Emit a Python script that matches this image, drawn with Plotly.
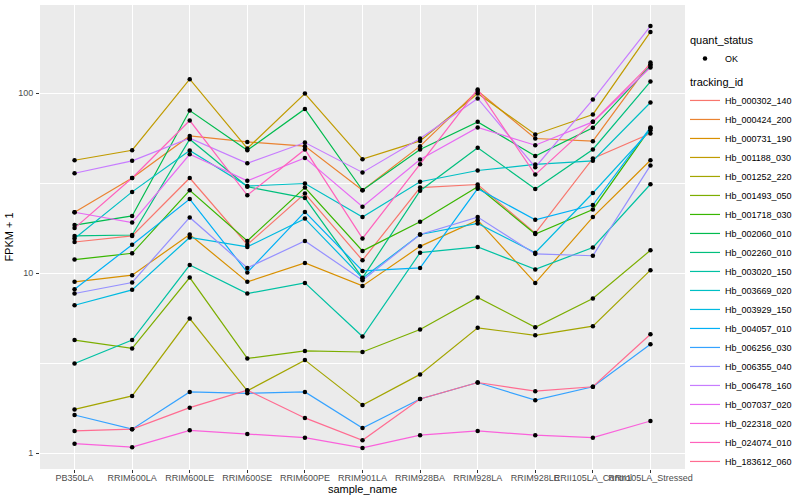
import plotly.graph_objects as go

samples = ["PB350LA", "RRIM600LA", "RRIM600LE", "RRIM600SE", "RRIM600PE", "RRIM901LA",
           "RRIM928BA", "RRIM928LA", "RRIM928LE", "RRII105LA_Control", "RRII105LA_Stressed"]

tracking_ids = ["Hb_000302_140", "Hb_000424_200", "Hb_000731_190", "Hb_001188_030",
                "Hb_001252_220", "Hb_001493_050", "Hb_001718_030", "Hb_002060_010",
                "Hb_002260_010", "Hb_003020_150", "Hb_003669_020", "Hb_003929_150",
                "Hb_004057_010", "Hb_006256_030", "Hb_006355_040", "Hb_006478_160",
                "Hb_007037_020", "Hb_022318_020", "Hb_024074_010", "Hb_183612_060"]

colors = ["#F8766D", "#EA8331", "#D89000", "#C09B00", "#A3A500", "#7CAE00", "#39B600",
          "#00BB4E", "#00BF7D", "#00C1A3", "#00BFC4", "#00BAE0", "#00B0F6", "#35A2FF",
          "#9590FF", "#C77CFF", "#E76BF3", "#FA62DB", "#FF62BC", "#FF6C91"]

# FPKM + 1 values, one list per tracking_id, in sample order
Hb_000302_140 = [14.9, 16.1, 33.8, 14.4, 27.7, 11.8, 29.9, 31.1, 16.7, 43.4, 59.7]
Hb_000424_200 = [21.8, 33.8, 57.9, 53.6, 50.8, 28.9, 50.8, 103, 56.0, 54.1, 148]
Hb_000731_190 = [8.95, 9.75, 16.4, 8.95, 11.4, 8.5, 14.1, 19.7, 8.83, 20.5, 42.4]
Hb_001188_030 = [42.4, 48.2, 119.6, 49.3, 99.6, 43.0, 54.3, 99.6, 59.0, 76.2, 219]
Hb_001252_220 = [1.75, 2.08, 5.6, 2.22, 3.29, 1.85, 2.74, 4.97, 4.52, 5.08, 10.4]
Hb_001493_050 = [4.25, 3.82, 9.46, 3.36, 3.70, 3.65, 4.87, 7.33, 5.01, 7.23, 13.4]
Hb_001718_030 = [11.9, 12.9, 28.9, 15.1, 29.9, 13.3, 19.3, 30.2, 16.5, 22.6, 63.9]
Hb_002060_010 = [18.5, 20.8, 80.1, 48.2, 81.8, 28.9, 48.7, 69.3, 44.8, 64.2, 142]
Hb_002260_010 = [16.1, 16.3, 55.5, 30.2, 26.2, 9.42, 28.7, 49.7, 29.4, 48.7, 116]
Hb_003020_150 = [3.15, 4.25, 11.1, 7.71, 8.83, 4.45, 13.0, 14.0, 10.5, 13.9, 31.2]
Hb_003669_020 = [15.6, 28.3, 48.0, 30.5, 31.5, 20.5, 32.2, 37.2, 40.2, 42.1, 88.8]
Hb_003929_150 = [6.64, 8.08, 15.8, 14.0, 20.1, 9.38, 16.4, 18.9, 13.0, 27.9, 62.3]
Hb_004057_010 = [8.15, 14.4, 25.8, 10.1, 21.9, 10.3, 10.7, 29.5, 19.8, 23.9, 64.5]
Hb_006256_030 = [1.63, 1.36, 2.19, 2.15, 2.19, 1.38, 2.0, 2.47, 1.97, 2.34, 4.03]
Hb_006355_040 = [7.71, 8.88, 20.4, 10.7, 15.1, 9.14, 16.4, 20.5, 12.8, 12.5, 39.7]
Hb_006478_160 = [35.9, 42.1, 56.2, 40.8, 53.2, 36.3, 56.0, 93.5, 38.8, 92.2, 236]
Hb_007037_020 = [21.8, 19.1, 45.8, 32.6, 43.7, 23.4, 42.8, 64.5, 51.4, 69.3, 139]
Hb_022318_020 = [1.13, 1.08, 1.34, 1.28, 1.22, 1.07, 1.26, 1.33, 1.26, 1.22, 1.51]
Hb_024074_010 = [17.8, 33.8, 70.5, 27.1, 48.7, 15.6, 40.3, 105, 35.3, 69.3, 145]
Hb_183612_060 = [1.33, 1.36, 1.79, 2.24, 1.57, 1.18, 2.0, 2.47, 2.21, 2.34, 4.58]

series = [Hb_000302_140, Hb_000424_200, Hb_000731_190, Hb_001188_030, Hb_001252_220,
          Hb_001493_050, Hb_001718_030, Hb_002060_010, Hb_002260_010, Hb_003020_150,
          Hb_003669_020, Hb_003929_150, Hb_004057_010, Hb_006256_030, Hb_006355_040,
          Hb_006478_160, Hb_007037_020, Hb_022318_020, Hb_024074_010, Hb_183612_060]

y_ticks = [1, 10, 100]
y_tick_labels = ["1", "10", "100"]

FONT = "Liberation Sans"

fig = go.Figure()

for i, (tid, vals, col) in enumerate(zip(tracking_ids, series, colors)):
    fig.add_trace(go.Scatter(
        x=samples, y=vals, mode="lines", name=tid,
        line=dict(color=col, width=1.2),
        legendgroup="tracking_id",
        legendgrouptitle=dict(text="tracking_id", font=dict(size=11, color="black", family=FONT)) if i == 0 else None,
        legendrank=10 + i,
    ))

all_x = [s for _ in series for s in samples]
all_y = [v for vals in series for v in vals]
fig.add_trace(go.Scatter(
    x=all_x, y=all_y, mode="markers", name="OK",
    marker=dict(color="black", size=4.5),
    legendgroup="quant_status",
    legendgrouptitle=dict(text="quant_status", font=dict(size=11, color="black", family=FONT)),
    legendrank=1,
))

fig.update_layout(
    width=800, height=500,
    margin=dict(l=40, r=115, t=5, b=31, autoexpand=False),
    paper_bgcolor="white",
    plot_bgcolor="#EBEBEB",
    font=dict(family=FONT, size=9, color="#4D4D4D"),
    showlegend=True,
    legend=dict(
        x=1.0, xanchor="left", y=0.957, yanchor="top",
        bgcolor="rgba(0,0,0,0)",
        font=dict(size=9, color="black", family=FONT),
        tracegroupgap=4,
        traceorder="grouped",
        itemwidth=30,
    ),
    xaxis=dict(
        type="category",
        categoryorder="array", categoryarray=samples,
        range=[-0.6, 10.6],
        showgrid=True, gridcolor="white", gridwidth=1.1,
        zeroline=False,
        ticks="outside", ticklen=3, tickcolor="#333333", tickwidth=1,
        tickangle=0,
        ticklabelstandoff=-3,
        tickfont=dict(size=9, color="#4D4D4D", family=FONT),
        title=dict(text="sample_name", font=dict(size=11, color="black", family=FONT), standoff=2),
        automargin=False,
        showline=False,
    ),
    yaxis=dict(
        type="log",
        range=[-0.0878, 2.490],
        tickmode="array", tickvals=y_ticks, ticktext=y_tick_labels,
        showgrid=True, gridcolor="white", gridwidth=1.1,
        minor=dict(tickmode="array", tickvals=[10 ** 0.5, 10 ** 1.5], showgrid=True,
                   gridcolor="white", gridwidth=0.55, ticks=""),
        zeroline=False,
        ticks="outside", ticklen=3, tickcolor="#333333", tickwidth=1,
        ticklabelstandoff=1,
        tickfont=dict(size=9, color="#4D4D4D", family=FONT),
        title=dict(text="FPKM + 1", font=dict(size=11, color="black", family=FONT), standoff=2),
        automargin=False,
        showline=False,
    ),
)

fig.write_html("out.html", config={"displayModeBar": False},
               post_script="document.body.style.margin='0px';")
